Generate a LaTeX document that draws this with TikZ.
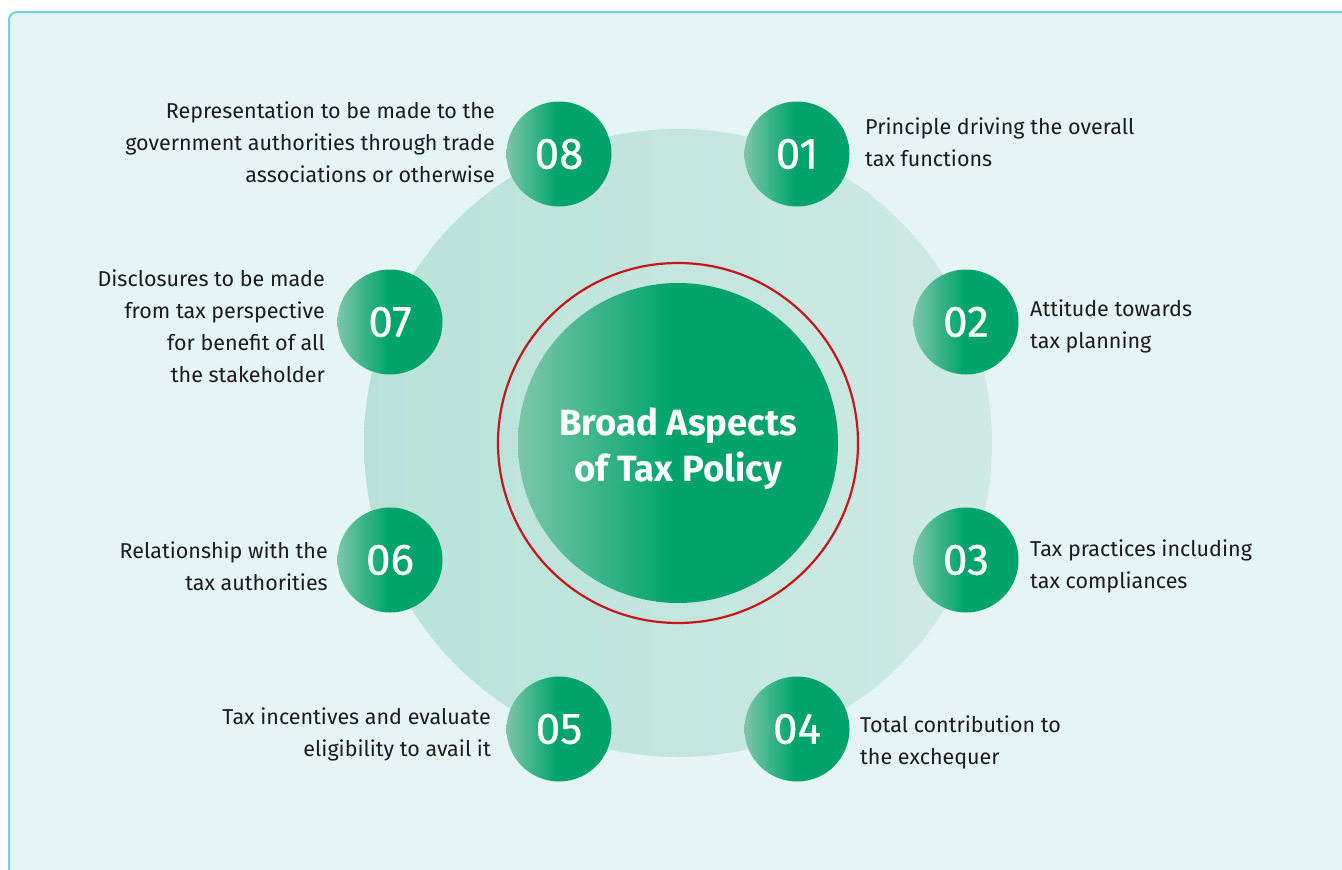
\documentclass[tikz,border=0pt]{standalone}
\usepackage{fontspec}
\setmainfont{Fira Sans}
\definecolor{bgc}{HTML}{E5F4F5}
\definecolor{framec}{HTML}{72D4D6}
\definecolor{bigl}{HTML}{B8E2D9}
\definecolor{bigr}{HTML}{CFEAE5}
\definecolor{dgreen}{HTML}{00A46A}
\definecolor{lgreen}{HTML}{7CC6AC}
\definecolor{ringred}{HTML}{C8161D}
\definecolor{txt}{HTML}{1C1C1C}
\pgfdeclarehorizontalshading{ballgreen}{100bp}{color(0bp)=(lgreen); color(25bp)=(lgreen); color(49bp)=(dgreen); color(100bp)=(dgreen)}
\tikzset{
  numball/.style={circle, minimum size=105pt, inner sep=0pt, shading=ballgreen, text=white, font=\fontsize{44}{44}\selectfont\addfontfeatures{FakeBold=0.6}},
  lbl/.style={text=txt, font=\fontsize{21.5}{32}\selectfont, inner sep=0pt},
  lbll/.style={lbl, anchor=east, align=right},
  lblr/.style={lbl, anchor=west, align=left},
}
\begin{document}
\begin{tikzpicture}[x=1pt,y=-1pt]
\useasboundingbox (0,0) rectangle (1342,870);
\fill[white] (0,0) rectangle (1342,870);
\filldraw[fill=bgc, draw=framec, line width=2pt, rounded corners=8pt] (9,12) rectangle (1360,890);
\shade[left color=bigl, right color=bigr] (678,443) circle[radius=314];
\node[circle, draw=ringred, line width=2.2pt, minimum size=360pt, inner sep=0pt] (ring) at (678,443) {};
\node[circle, minimum size=320pt, inner sep=0pt, shading=ballgreen] (hub) at (678,443) {};
\node[text=white, align=center, inner sep=0pt, font=\fontsize{36.5}{46}\selectfont\bfseries] (title) at (678,449) {Broad Aspects\\of Tax Policy};
\node[numball] (n08) at (559,154) {08};
\node[numball] (n01) at (797,154) {01};
\node[numball] (n07) at (390,322) {07};
\node[numball] (n02) at (966,322) {02};
\node[numball] (n06) at (390,560) {06};
\node[numball] (n03) at (966,560) {03};
\node[numball] (n05) at (559,729) {05};
\node[numball] (n04) at (797,729) {04};
\node[lbll] (t08) at (495,142) {Representation to be made to the\\government authorities through trade\\associations or otherwise};
\node[lblr] (t01) at (865,142) {Principle driving the overall\\tax functions};
\node[lbll] (t07) at (325,326) {Disclosures to be made\\from tax perspective\\for benefit of all\\the stakeholder};
\node[lblr] (t02) at (1030,326) {Attitude towards\\tax planning};
\node[lbll] (t06) at (328,566) {Relationship with the\\tax authorities};
\node[lblr] (t03) at (1030,566) {Tax practices including\\tax compliances};
\node[lbll] (t05) at (491,734) {Tax incentives and evaluate\\eligibility to avail it};
\node[lblr] (t04) at (860,742) {Total contribution to\\the exchequer};
\end{tikzpicture}
\end{document}
